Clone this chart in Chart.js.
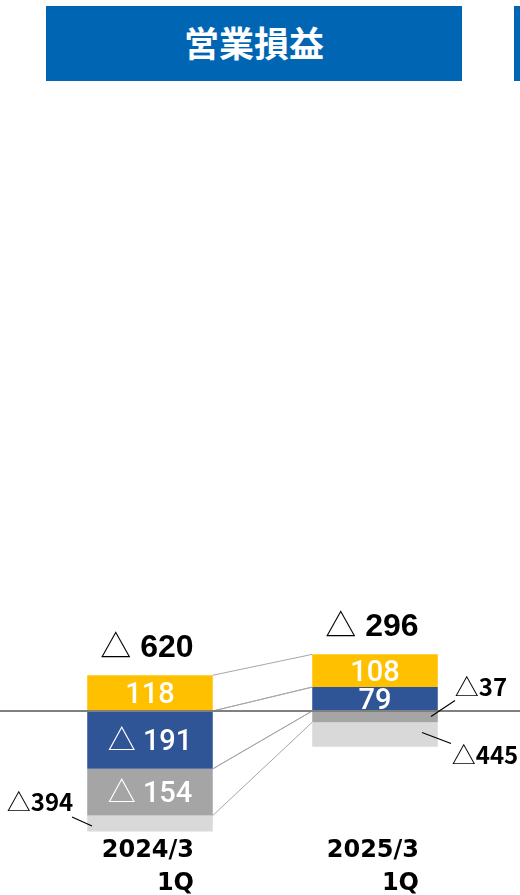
<!DOCTYPE html>
<html>
<head>
<meta charset="utf-8">
<script src="https://cdn.jsdelivr.net/npm/chart.js@4/dist/chart.umd.min.js"></script>
<style>
  html, body { margin: 0; padding: 0; background: #fff; overflow: hidden; width: 520px; height: 895px; }
  #wrap { position: relative; width: 520px; height: 895px; }
  #c { position: absolute; left: 0; top: 0; }
  .title { position: absolute; top: 6px; height: 75px; background: #0066B3; color: #fff;
           font-family: "Noto Sans CJK JP", sans-serif; font-weight: bold; font-size: 35px;
           display: flex; align-items: center; justify-content: center; }
</style>
</head>
<body>
<div id="wrap">
  <canvas id="c" width="520" height="900"></canvas>
  <div class="title" style="left:46px;width:416px;"><span style="position:relative;top:-2px;">営業損益</span></div>
  <div class="title" style="left:514px;width:20px;"></div>
</div>
<script>
// ---- data ----
const categories = ["2024/3 1Q", "2025/3 1Q"];
const tickLabels = [["2024/3", "1Q"], ["2025/3", "1Q"]];
const seriesYellow = [118, 108];
const seriesBlue = [-191, 79];
const seriesGray = [-154, -37];
const seriesLightGray = [-394, -445];        // labelled values
const seriesLightGrayShown = [-53, -81];     // bar drawn shortened (truncated) in the reference
const totals = [-620, -296];

const fmt = v => (v < 0 ? "△" + Math.abs(v) : String(v));
const fmtSp = v => (v < 0 ? "△ " + Math.abs(v) : String(v));

const CJK = '"Noto Sans CJK JP"';

function drawParts(ctx, parts, cx, baseline, color) {
  let w = 0;
  parts.forEach(p => { ctx.font = p.font; p.w = ctx.measureText(p.t).width; w += p.w; });
  let x = cx - w / 2;
  ctx.fillStyle = color;
  ctx.textAlign = 'left';
  ctx.textBaseline = 'alphabetic';
  parts.forEach(p => { ctx.font = p.font; ctx.fillText(p.t, x, baseline); x += p.w; });
}

const overlayPlugin = {
  id: 'overlay',
  afterDatasetsDraw(chart) {
    const ctx = chart.ctx;
    const metas = chart.data.datasets.map((d, i) => chart.getDatasetMeta(i));
    const edges = e => [Math.min(e.y, e.base), Math.max(e.y, e.base)];
    ctx.save();
    // connector lines between the two bars
    ctx.strokeStyle = '#a6a6a6';
    ctx.lineWidth = 1;
    [0, 1, 2].forEach(di => {
      const a = metas[di].data[0], b = metas[di].data[1];
      const ea = edges(a), eb = edges(b);
      [0, 1].forEach(k => {
        ctx.beginPath();
        ctx.moveTo(a.x + a.width / 2, ea[k]);
        ctx.lineTo(b.x - b.width / 2, eb[k]);
        ctx.stroke();
      });
    });
    // zero line across the full width
    const y0 = chart.scales.y.getPixelForValue(0);
    ctx.strokeStyle = '#808080';
    ctx.lineWidth = 2.2;
    ctx.beginPath();
    ctx.moveTo(0, y0);
    ctx.lineTo(chart.width, y0);
    ctx.stroke();

    // inside labels
    const inside = [[0, 0], [0, 1], [1, 0], [1, 1], [2, 0]];
    inside.forEach(([di, idx]) => {
      const e = metas[di].data[idx];
      const v = chart.data.datasets[di].data[idx];
      const cy = (e.y + e.base) / 2;
      const digits = String(Math.abs(v));
      const numFont = '500 29px Roboto';
      const parts = v < 0
        ? [{ t: '△', font: '28px ' + CJK }, { t: ' ' + digits, font: numFont }]
        : [{ t: digits, font: numFont }];
      drawParts(ctx, parts, e.x, cy + 10.3, '#ffffff');
    });

    // outside labels with leader lines
    const outside = [
      { di: 2, idx: 1, tx: 106, ty: -29, l: [80, -16, 56, 0] },
      { di: 3, idx: 1, tx: 110, ty: 21, l: [47, -2, 76, 9] },
      { di: 3, idx: 0, tx: -110, ty: -21.5, l: [-78, -6.5, -58, 2.5] }
    ];
    outside.forEach(o => {
      const e = metas[o.di].data[o.idx];
      const cy = (e.y + e.base) / 2;
      const v = o.di === 3 ? seriesLightGray[o.idx] : chart.data.datasets[o.di].data[o.idx];
      ctx.strokeStyle = '#000';
      ctx.lineWidth = 1.2;
      ctx.beginPath();
      ctx.moveTo(e.x + o.l[0], cy + o.l[1]);
      ctx.lineTo(e.x + o.l[2], cy + o.l[3]);
      ctx.stroke();
      const s = fmt(v);
      drawParts(ctx, [{ t: s.slice(0, 1), font: '24px ' + CJK }, { t: s.slice(1), font: 'bold 24px ' + CJK }],
                e.x + o.tx, cy + o.ty + 8.8, '#000');
    });

    // totals above each bar
    totals.forEach((t, idx) => {
      let top = Infinity, x = 0;
      metas.forEach(m => { const e = m.data[idx]; top = Math.min(top, e.y, e.base); x = e.x; });
      const cy = top - 30;
      const digits = String(Math.abs(t));
      const parts = t < 0
        ? [{ t: '△', font: '31px ' + CJK }, { t: ' ' + digits, font: 'bold 32px "Liberation Sans"' }]
        : [{ t: digits, font: 'bold 32px "Liberation Sans"' }];
      drawParts(ctx, parts, x - 3, cy + 11.4, '#000');
    });
    ctx.restore();
  }
};

new Chart(document.getElementById('c'), {
  type: 'bar',
  data: {
    labels: tickLabels,
    datasets: [
      { label: 'blue', data: seriesBlue, backgroundColor: '#2F5597' },
      { label: 'yellow', data: seriesYellow, backgroundColor: '#FFC000' },
      { label: 'gray', data: seriesGray, backgroundColor: '#A5A5A5' },
      { label: 'lightgray', data: seriesLightGrayShown, backgroundColor: '#D9D9D9' }
    ].map(d => Object.assign(d, { stack: 's', borderWidth: 0, barPercentage: 0.558, categoryPercentage: 1 }))
  },
  options: {
    responsive: false,
    animation: false,
    devicePixelRatio: 1,
    layout: { padding: { top: 100, left: 37.5, right: 32.5, bottom: 0 } },
    plugins: { legend: { display: false }, tooltip: { enabled: false }, title: { display: false } },
    scales: {
      x: {
        stacked: true,
        grid: { display: false, drawTicks: false },
        border: { display: false },
        ticks: {
          color: '#000', padding: 0, align: 'end', labelOffset: 44, maxRotation: 0, autoSkip: false,
          font: { family: 'DejaVu Sans', weight: 'bold', size: 24, lineHeight: 1.375 }
        }
      },
      y: { stacked: true, display: false, min: -406, max: 2017 }
    }
  },
  plugins: [overlayPlugin]
});
</script>
</body>
</html>
